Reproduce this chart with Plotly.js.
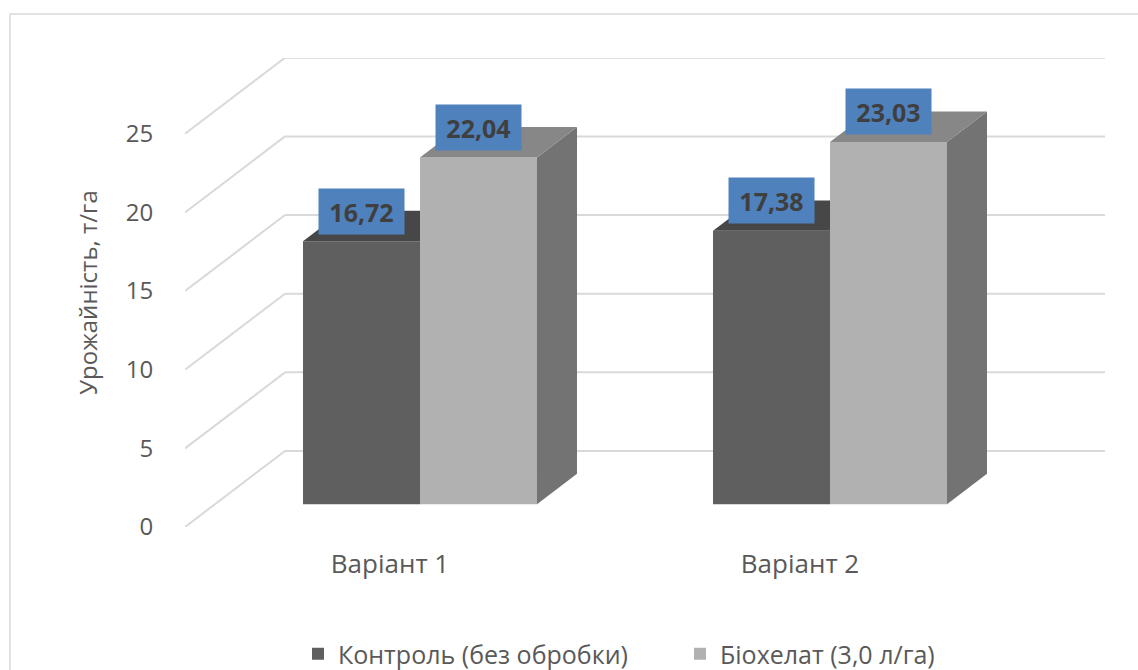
<!DOCTYPE html>
<html>
<head>
<meta charset="utf-8">
<script src="https://cdn.plot.ly/plotly-3.0.1.min.js"></script>
<style>
  html, body { margin: 0; padding: 0; background: #ffffff; overflow: hidden; }
  #chart { width: 1138px; height: 670px; }
</style>
</head>
<body>
<div id="chart"></div>
<script>
// Урожайність за варіантами досліду, т/га
const categories = ['Варіант 1', 'Варіант 2'];
const seriesNames = ['Контроль (без обробки)', 'Біохелат (3,0 л/га)'];
const controlYield = [16.72, 17.38];
const biochelateYield = [22.04, 23.03];
const yTickValues = [0, 5, 10, 15, 20, 25];

// ---- page geometry (pixels) ----
const W = 1138, H = 670;
const plotL = 185, plotR = 1105, plotT = 58, plotB = 527;
const pxPerCat = 410;          // width of one category slot
const pxPerUnit = 15.73;       // pixels per 1 т/га
const wallDx = 100, wallDy = 76;   // full depth of the 3D box (px)
const barPlane = 0.3;          // bars start at 30% of the depth
const barDepth = 0.4;          // and take 40% of it
const gapWidth = 0.4293;       // free share of each category slot

// depth offsets in axis units
const wallDxU = wallDx / pxPerCat, wallDyU = wallDy / pxPerUnit;
const planeDx = barPlane * wallDxU, planeDy = barPlane * wallDyU;
const depthDx = barDepth * wallDxU, depthDy = barDepth * wallDyU;

const xRange = [-0.5, (plotR - plotL) / pxPerCat - 0.5];
const yRange = [0, (plotB - plotT) / pxPerUnit];
const positions = categories.map((_, i) => i);
const barW = (1 - gapWidth) / 2;

const colors = {
  darkFront: '#5f5f5f', darkTop: '#474747',
  lightFront: '#b1b1b1', lightTop: '#878787', lightSide: '#737373',
  grid: '#d9d9d9', text: '#595959', label: '#4f81bd', labelText: '#3f3f3f'
};
const font = 'Open Sans, Noto Sans, sans-serif';

function poly(pts, color) {
  return {
    type: 'scatter', mode: 'lines', xaxis: 'x2', yaxis: 'y2',
    x: pts.map(p => p[0]).concat([pts[0][0]]),
    y: pts.map(p => p[1]).concat([pts[0][1]]),
    fill: 'toself', fillcolor: color, line: { width: 0, color: color },
    hoverinfo: 'skip', showlegend: false
  };
}

const traces = [
  {
    type: 'bar', name: seriesNames[0], x: positions, y: controlYield,
    xaxis: 'x2', yaxis: 'y2', marker: { color: colors.darkFront },
    hovertemplate: '%{y:.2f}<extra>' + seriesNames[0] + '</extra>'
  },
  {
    type: 'bar', name: seriesNames[1], x: positions, y: biochelateYield,
    xaxis: 'x2', yaxis: 'y2', marker: { color: colors.lightFront },
    hovertemplate: '%{y:.2f}<extra>' + seriesNames[1] + '</extra>'
  }
];

// top and side faces of the prisms
positions.forEach((p, i) => {
  const xl = p - barW, xm = p, xr = p + barW;
  const c = controlYield[i], b = biochelateYield[i];
  // visible part of the control bar top (the rest is behind the next bar)
  traces.push(poly([[xl, c], [xm, c], [xm, c + depthDy], [xl + depthDx, c + depthDy]], colors.darkTop));
  traces.push(poly([[xr, 0], [xr, b], [xr + depthDx, b + depthDy], [xr + depthDx, depthDy]], colors.lightSide));
  traces.push(poly([[xm, b], [xr, b], [xr + depthDx, b + depthDy], [xm + depthDx, b + depthDy]], colors.lightTop));
});

// back wall gridlines and the diagonals of the side wall
const shapes = [];
yTickValues.forEach(v => {
  shapes.push({
    type: 'line', xref: 'x', yref: 'y', layer: 'below',
    x0: xRange[0] + wallDxU, x1: xRange[1], y0: v + wallDyU, y1: v + wallDyU,
    line: { color: colors.grid, width: 2 }
  });
  shapes.push({
    type: 'line', xref: 'x', yref: 'y', layer: 'below',
    x0: xRange[0], x1: xRange[0] + wallDxU, y0: v, y1: v + wallDyU,
    line: { color: colors.grid, width: 2 }
  });
});

// chart frame
const pw = plotR - plotL, ph = plotB - plotT;
const px2paperX = px => (px - plotL) / pw;
const px2paperY = py => (plotB - py) / ph;
shapes.push({
  type: 'rect', xref: 'paper', yref: 'paper', layer: 'below',
  x0: px2paperX(10), x1: px2paperX(W + 20), y0: px2paperY(H + 20), y1: px2paperY(14),
  line: { color: colors.grid, width: 1.5 }, fillcolor: 'rgba(0,0,0,0)'
});

// value labels
const fmt = v => v.toFixed(2).replace('.', ',');
const annotations = [];
positions.forEach((p, i) => {
  [[controlYield[i], p - barW / 2], [biochelateYield[i], p + barW / 2]].forEach(([v, x]) => {
    annotations.push({
      xref: 'x2', yref: 'y2', x: x, y: v, yshift: 30,
      text: '<b>' + fmt(v) + '</b>', showarrow: false,
      bgcolor: colors.label, width: 85, height: 45, borderpad: 0,
      font: { family: font, size: 25, color: colors.labelText }
    });
  });
});

const layout = {
  width: W, height: H,
  margin: { l: plotL, r: W - plotR, t: plotT, b: H - plotB, autoexpand: false },
  paper_bgcolor: '#ffffff', plot_bgcolor: 'rgba(0,0,0,0)',
  font: { family: font, color: colors.text },
  barmode: 'group', bargap: gapWidth, bargroupgap: 0,
  showlegend: true,
  legend: {
    orientation: 'h', x: px2paperX(298), xanchor: 'left',
    y: px2paperY(654), yanchor: 'middle',
    entrywidth: 337, entrywidthmode: 'pixels',
    font: { family: font, size: 25, color: colors.text },
    itemclick: false, itemdoubleclick: false
  },
  xaxis: {
    type: 'linear', range: xRange, fixedrange: true,
    tickvals: positions, ticktext: categories,
    showgrid: false, zeroline: false, showline: false,
    ticks: 'outside', ticklen: 14, tickcolor: 'rgba(0,0,0,0)',
    tickfont: { family: font, size: 26, color: colors.text }
  },
  yaxis: {
    type: 'linear', range: yRange, fixedrange: true,
    tickvals: yTickValues, ticktext: yTickValues.map(String),
    showgrid: false, zeroline: false, showline: false,
    ticks: 'outside', ticklen: 26, tickcolor: 'rgba(0,0,0,0)',
    tickfont: { family: font, size: 24, color: colors.text },
    title: { text: 'Урожайність, т/га', standoff: 21, font: { family: font, size: 24, color: colors.text } }
  },
  xaxis2: {
    type: 'linear', overlaying: 'x', anchor: 'y2', visible: false, fixedrange: true,
    range: [xRange[0] - planeDx, xRange[1] - planeDx]
  },
  yaxis2: {
    type: 'linear', overlaying: 'y', anchor: 'x2', visible: false, fixedrange: true,
    range: [yRange[0] - planeDy, yRange[1] - planeDy]
  },
  shapes: shapes,
  annotations: annotations
};

Plotly.newPlot('chart', traces, layout, { displayModeBar: false });
</script>
</body>
</html>
